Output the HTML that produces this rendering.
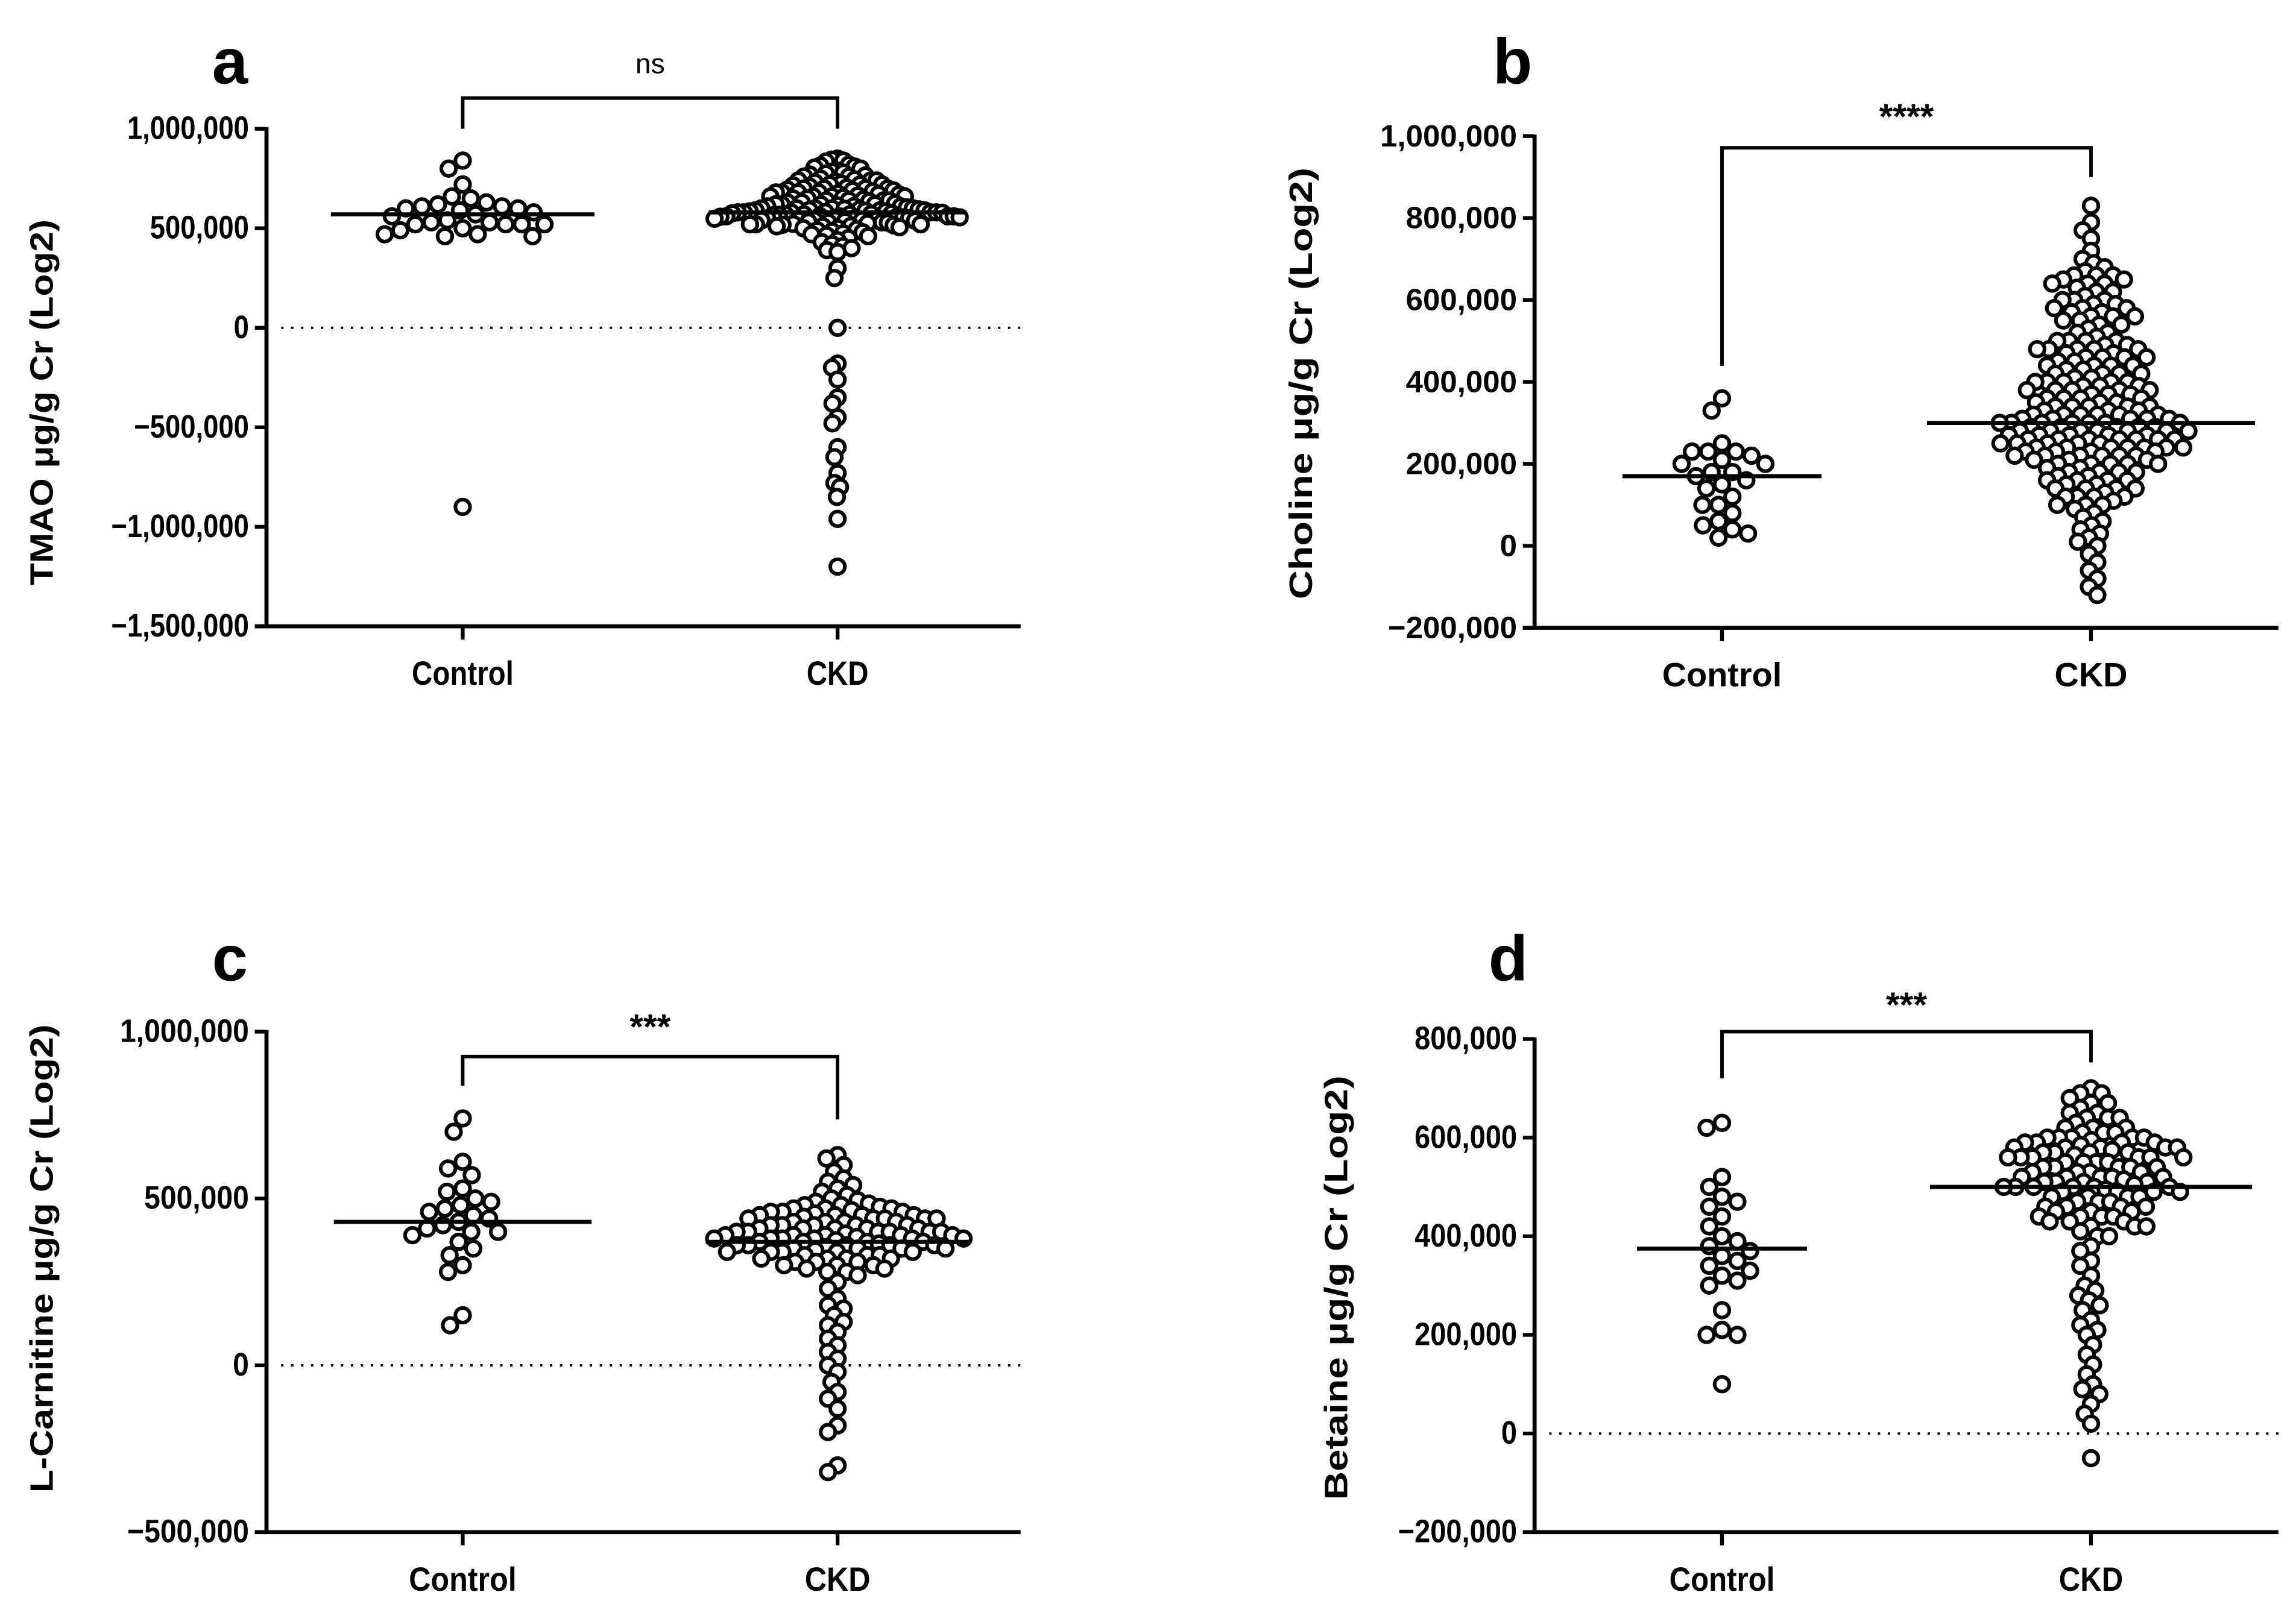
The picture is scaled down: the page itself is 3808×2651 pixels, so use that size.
<!DOCTYPE html>
<html><head><meta charset="utf-8"><style>
html,body{margin:0;padding:0;background:#fff;}
svg{display:block;font-family:"Liberation Sans",Arial,sans-serif;}
</style></head><body>
<svg id="fig" width="3808" height="2651" viewBox="0 0 1568 1092" preserveAspectRatio="none" xmlns="http://www.w3.org/2000/svg"></svg>
<script>
// ---------- DATA (values in thousands) ----------
const categories = ["Control", "CKD"];
const tmaoControl = [590,530,520,660,600,520,500,610,520,720,800,600,540,460,630,530,840,650,490,470,620,560,520,470,610,580,460,570,-900];
const tmaoCKD = [850,845,840,835,820,815,810,805,800,790,785,780,775,770,765,760,750,745,740,735,730,725,720,715,710,705,700,695,690,685,680,675,670,665,660,660,655,650,645,640,635,630,625,620,615,612,610,605,600,598,595,592,590,588,585,582,580,578,575,572,570,568,565,562,560,558,555,552,550,548,545,542,540,538,535,532,530,528,525,522,520,518,515,512,510,505,500,495,490,485,480,475,470,465,460,450,440,430,420,410,400,390,380,590,585,580,575,570,600,595,560,555,
 760,740,720,700,690,680,670,650,640,630,620,610,600,590,580,570,560,550,540,530,520,510,500,740,720,700,680,660,640,620,600,580,560,540,520,700,680,660,640,620,600,580,560,540,
 300,250,0,-180,-200,-260,-350,-380,-450,-480,-600,-650,-730,-780,-800,-850,-960,-1200];
const cholControl = [360,330,250,230,230,230,220,210,200,200,180,180,170,160,150,140,120,100,100,80,60,50,40,30,20];
const cholCKD = [830,790,770,750,720,700,690,680,670,660,650,640,660,650,640,630,620,610,600,590,580,570,560,550,600,590,580,570,560,550,540,530,520,510,500,490,480,500,490,480,470,460,450,440,430,420,410,400,390,380,370,480,460,440,420,400,380,360,340,320,300,280,260,240,220,200,400,390,380,370,360,350,340,330,320,310,300,290,280,270,260,250,240,230,220,210,350,340,330,320,310,300,290,280,270,260,250,240,230,220,210,200,320,310,300,290,280,270,260,250,240,230,220,310,300,290,280,270,260,250,240,200,190,180,170,160,150,140,130,120,110,100,180,160,140,120,100,80,60,40,20,90,70,50,30,10,0,-20,-40,-60,-80,-100,-120,
 660,640,620,600,580,560,540,520,500,480,460,440,420,400,380,360,340,320,300,280,260,240,220,200,180,160,140,120,
 500,470,450,430,410,390,370,350,330,310,290,270,250,230,210,190,170,150,
 480,440,400,360,320,280,240,200,160,120,460,420,380,340,300,260,220,180,140,100];
const carnControl = [740,700,610,590,570,530,520,500,490,480,470,460,450,440,430,420,410,400,400,390,370,350,330,300,280,150,120];
const carnCKD = [630,620,600,580,560,550,540,530,520,510,500,495,490,485,480,475,470,465,460,455,450,445,440,470,460,450,440,430,420,410,400,390,380,440,430,420,410,400,395,390,385,380,375,370,365,360,355,350,345,340,420,410,400,390,380,370,360,350,340,330,320,310,300,290,280,270,400,380,360,340,320,300,280,
 480,470,460,450,440,430,420,410,400,390,380,370,360,350,340,330,320,310,300,290,450,430,410,390,370,350,330,310,440,420,400,380,360,340,320,
 250,230,200,180,170,150,130,120,100,80,60,40,20,0,-20,-50,-80,-100,-130,-180,-200,-300,-320];
const betControl = [630,620,520,500,480,470,460,440,420,400,390,380,370,360,350,340,330,320,310,300,250,210,200,200,100];
const betCKD = [700,690,680,670,660,650,640,690,670,650,630,620,610,600,640,620,610,600,595,590,585,580,575,570,565,560,600,590,580,570,560,550,540,530,520,510,500,580,560,550,540,530,520,515,510,505,500,495,490,560,540,520,500,490,480,470,460,450,440,430,420,410,400,500,480,460,440,420,400,
 640,620,600,590,580,570,560,550,540,530,520,510,500,490,480,470,460,450,440,430,420,610,590,570,550,530,510,490,470,450,430,600,580,560,540,520,500,480,460,440,
 380,370,350,340,320,300,290,280,270,260,250,230,220,210,200,180,160,140,120,100,90,80,60,40,20,-50];
const centers = {a:[570,580], b:[170,300], c:[430,370], d:[375,500]};
const ticksA = [1000,500,0,-500,-1000,-1500];
const ticksB = [1000,800,600,400,200,0,-200];
const ticksC = [1000,500,0,-500];
const ticksD = [800,600,400,200,0,-200];

// ---------- RENDER ----------
const NS = "http://www.w3.org/2000/svg";
const svg = document.getElementById("fig");
function el(tag, attrs, parent){ const e=document.createElementNS(NS,tag); for(const k in attrs) e.setAttribute(k,attrs[k]); (parent||svg).appendChild(e); return e; }
function fmt(v){ const n=Math.abs(v*1000); const s=n.toLocaleString("en-US"); return (v<0?"\u2212":"")+s; }

const panels = [
 {id:"a", letter:"a", title:"TMAO \u03bcg/g Cr (Log2)", tl:250, ctrl:tmaoControl, ckd:tmaoCKD, ticks:ticksA, vTop:1000, yTop:88, vBot:-1500, yBot:428,
  ax:182, axEnd:697, cx:[316,572], zero:true, half:[84,84], br:{y:67,l:88,r:88,label:"ns",ly:50,fs:19,fw:"normal"}, letterPos:[157,57], titleX:28, titleY:275, cond:0.85, tfs:22},
 {id:"b", letter:"b", title:"Choline \u03bcg/g Cr (Log2)", tl:295, ctrl:cholControl, ckd:cholCKD, ticks:ticksB, vTop:1000, yTop:93, vBot:-200, yBot:429,
  ax:1048, axEnd:1556, cx:[1176,1428], zero:false, half:[62,108], br:{y:101,l:250,r:121,label:"****",ly:88,fs:24,fw:"bold"}, letterPos:[1033,57], titleX:888, titleY:262, cond:1, tfs:21},
 {id:"c", letter:"c", title:"L-Carnitine \u03bcg/g Cr (Log2)", tl:320, ctrl:carnControl, ckd:carnCKD, ticks:ticksC, vTop:1000, yTop:705, vBot:-500, yBot:1047,
  ax:182, axEnd:697, cx:[316,572], zero:true, half:[82,86], br:{y:722,l:742,r:765,label:"***",ly:710,fs:24,fw:"bold"}, letterPos:[157,670], titleX:28, titleY:860, cond:0.9, tfs:22},
 {id:"d", letter:"d", title:"Betaine \u03bcg/g Cr (Log2)", tl:290, ctrl:betControl, ckd:betCKD, ticks:ticksD, vTop:800, yTop:710, vBot:-200, yBot:1047,
  ax:1048, axEnd:1556, cx:[1176,1428], zero:true, half:[52,106], br:{y:705,l:737,r:726,label:"***",ly:695,fs:24,fw:"bold"}, letterPos:[1030,670], titleX:912, titleY:880, cond:0.88, tfs:22}
];

function layout(ys, d){
  const placed=[];
  ys.forEach(y=>{
    const iv=[];
    placed.forEach(p=>{ const dy=Math.abs(p.y-y); if(dy<d){ const w=Math.sqrt(d*d-dy*dy); iv.push([p.x-w,p.x+w]); } });
    const cands=[0]; iv.forEach(I=>{cands.push(I[0]-0.01,I[1]+0.01);});
    cands.sort((a,b)=>Math.abs(a)-Math.abs(b));
    let x=0;
    for(const c of cands){ if(!iv.some(I=>c>I[0]&&c<I[1])){x=c;break;} }
    placed.push({x:x,y:y});
  });
  return placed;
}

function swarm(g, vals, cx, yScale, half, d, name){
  const ys = vals.map(yScale).sort((a,b)=>a-b);
  const pts = layout(ys, d);
  const m = Math.max(1e-6, ...pts.map(p=>Math.abs(p.x)));
  const k = m>half ? half/m : 1;
  pts.forEach(p=>{
    const c = el("circle",{cx:cx+p.x*k, cy:p.y, r:5, fill:"#fff", stroke:"#000","stroke-width":2.5}, g);
    
    
  });
}

panels.forEach(p=>{
  const g = el("g",{});
  
  
  const yS = v => p.yTop + (v - p.vTop) * (p.yBot - p.yTop) / (p.vBot - p.vTop);
  const tx = (x,y,txt,opts,name)=>{
    const t = el("text",Object.assign({x:x,y:y,"text-anchor":"middle"},opts),g);
    t.textContent = txt;
    
    
    return t;
  };
  tx(p.letterPos[0], p.letterPos[1], p.letter, {"font-size":44,"font-weight":"bold"}, "panel-letter-"+p.id);
  if(p.zero){ const z=el("line",{x1:p.ax+10,x2:p.axEnd,y1:yS(0),y2:yS(0),stroke:"#000","stroke-width":1.6,"stroke-dasharray":"1.6 5.2"},g);
      }
  const ya = el("line",{x1:p.ax,x2:p.ax,y1:p.yTop-1,y2:p.yBot+1,stroke:"#000","stroke-width":2.8},g);
   
  const xa = el("line",{x1:p.ax-8,x2:p.axEnd,y1:p.yBot,y2:p.yBot,stroke:"#000","stroke-width":2.8},g);
   
  p.ticks.forEach(v=>{
    const y=yS(v);
    const tk=el("line",{x1:p.ax-8,x2:p.ax,y1:y,y2:y,stroke:"#000","stroke-width":2.6},g);
     
    tx(0,0,fmt(v),{"font-size":p.tfs,"font-weight":"bold","text-anchor":"end",transform:`translate(${p.ax-12},${y+7}) scale(${p.cond},1)`},"y-tick-label");
  });
  p.cx.forEach((cx,i)=>{
    const tk=el("line",{x1:cx,x2:cx,y1:p.yBot,y2:p.yBot+9,stroke:"#000","stroke-width":2.6},g);
     
    tx(0,0,categories[i],{"font-size":23,"font-weight":"bold",transform:`translate(${cx},${p.yBot+40}) scale(${p.cond},1)`},"x-label-"+categories[i].toLowerCase());
  });
  tx(0,0,p.title,{"font-size":22,"font-weight":"bold",textLength:p.tl,lengthAdjust:"spacingAndGlyphs",transform:`translate(${p.titleX+8},${p.titleY}) rotate(-90)`},"y-axis-title");
  const b=p.br;
  const br=el("path",{d:`M${p.cx[0]},${b.l} V${b.y} H${p.cx[1]} V${b.r}`,fill:"none",stroke:"#000","stroke-width":2.4},g);
   
  tx((p.cx[0]+p.cx[1])/2, b.ly, b.label, {"font-size":b.fs,"font-weight":b.fw}, "significance-label");
  swarm(g, p.ctrl, p.cx[0], yS, p.half[0], 11, "control");
  swarm(g, p.ckd, p.cx[1], yS, p.half[1], 8, "ckd");
  p.cx.forEach((cx,i)=>{
    const w = i===0 ? p.half[0]+6 : p.half[1]+4;
    const ml=el("line",{x1:cx-w,x2:cx+w,y1:yS(centers[p.id][i]),y2:yS(centers[p.id][i]),stroke:"#000","stroke-width":2.8},g);
    
    
  });
});
</script>
</body></html>
